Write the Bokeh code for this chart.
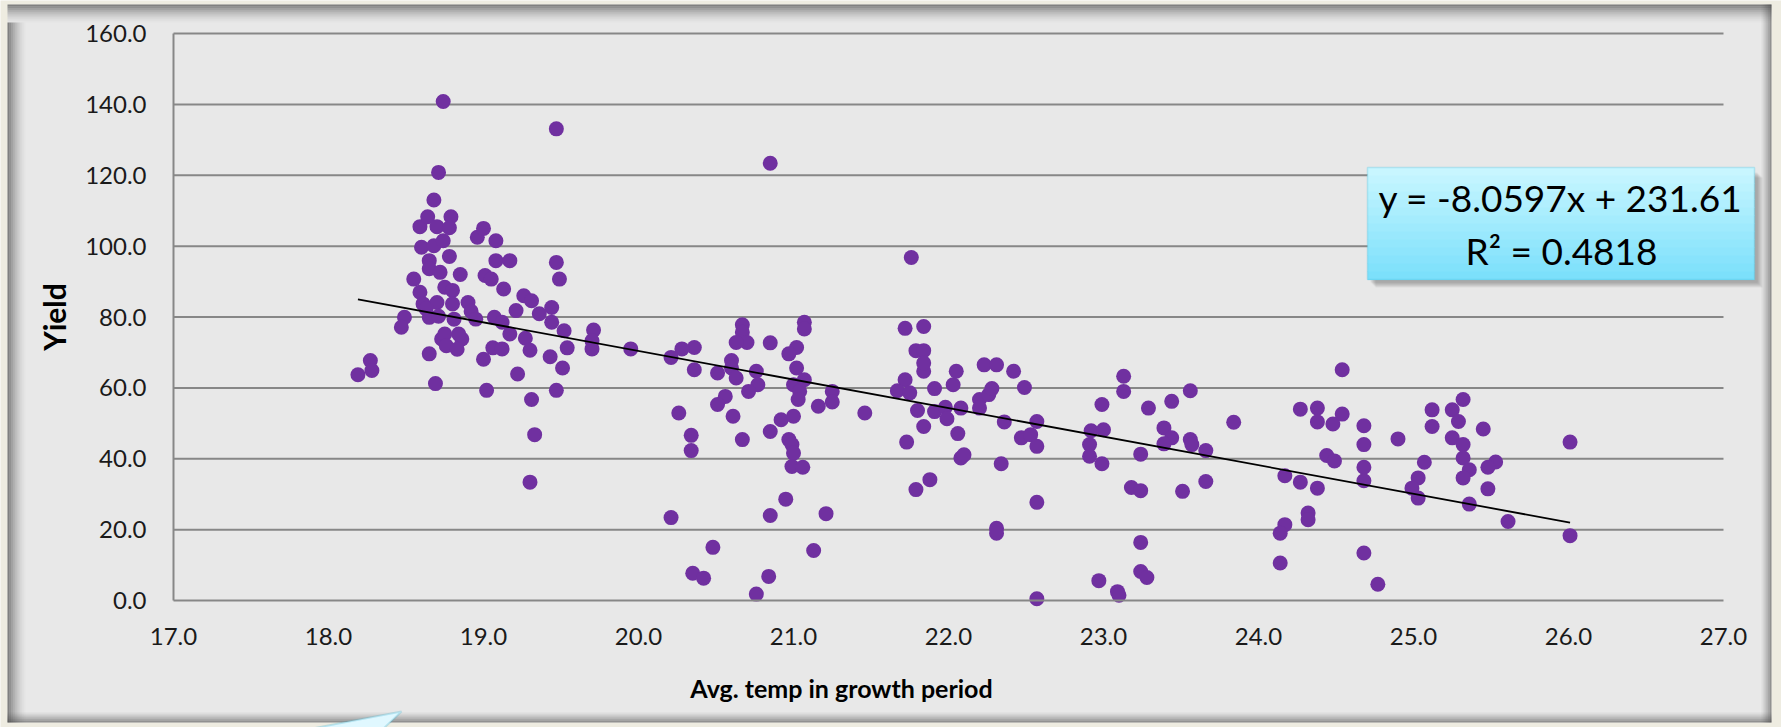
from bokeh.plotting import figure
from bokeh.models import (Range1d, FixedTicker, NumeralTickFormatter, BoxAnnotation,
                          PolyAnnotation, Label)
from bokeh.embed import file_html
from bokeh.resources import INLINE

# ---------------- data ----------------
temp = [18.74, 19.47, 18.71, 18.68, 18.59, 18.64, 18.79, 18.70, 18.78, 18.60,
        18.68, 18.74, 18.78, 18.96, 19.00, 19.08, 19.08, 19.17, 18.65, 18.65,
        18.72, 18.85, 18.55, 19.01, 19.05, 19.13, 19.26, 19.31, 18.59, 18.75,
        18.80, 18.90, 18.61, 18.70, 18.80, 18.63, 19.44, 19.21, 18.92, 18.49,
        18.47, 18.65, 18.71, 18.81, 18.95, 19.07, 19.12, 19.36, 19.44, 19.52,
        19.71, 19.70, 18.73, 18.86, 18.84, 18.75, 19.17, 19.27, 18.76, 18.83,
        19.06, 19.12, 19.54, 19.70, 18.65, 18.27, 19.00, 19.30, 19.43, 18.19,
        18.28, 18.69, 19.22, 19.02, 19.31, 19.47, 19.51, 19.33, 19.30, 19.47,
        19.49, 20.85, 21.76, 19.95, 20.67, 20.67, 20.70, 20.63, 20.85, 21.07,
        21.07, 21.02, 20.97, 21.72, 21.84, 21.79, 21.84, 20.36, 20.28, 20.21,
        20.60, 22.23, 22.31, 20.36, 20.51, 20.60, 20.63, 20.76, 20.77, 20.71,
        20.56, 20.51, 20.61, 20.26, 20.34, 20.34, 20.67, 20.85, 20.92, 21.00,
        20.97, 20.99, 21.00, 20.99, 21.06, 21.02, 21.00, 21.04, 21.07, 21.03,
        21.16, 21.25, 21.25, 21.46, 20.95, 20.85, 21.21, 20.21, 20.48, 20.35,
        20.42, 20.84, 20.76, 21.13, 21.72, 21.67, 21.75, 21.84, 21.84, 21.91,
        21.80, 21.91, 21.98, 21.99, 22.08, 22.03, 22.05, 21.84, 22.06, 21.73,
        22.08, 22.10, 21.88, 21.79, 22.20, 22.26, 22.28, 22.20, 22.42, 22.49,
        22.36, 22.47, 22.53, 22.57, 22.57, 22.34, 22.57, 22.31, 22.31, 22.57,
        22.99, 22.92, 23.00, 22.91, 22.91, 22.99, 23.13, 23.13, 23.29, 23.24,
        23.18, 23.24, 23.44, 23.56, 23.39, 23.44, 23.39, 23.56, 23.57, 23.51,
        23.24, 23.24, 23.28, 22.97, 23.09, 23.10, 24.54, 23.84, 23.66, 23.66,
        24.27, 24.38, 24.38, 24.48, 24.54, 24.68, 24.68, 24.44, 24.49, 24.17,
        24.27, 24.38, 24.68, 24.68, 24.32, 24.32, 24.17, 24.14, 24.14, 24.68,
        24.77, 24.90, 25.07, 25.03, 24.99, 25.03, 25.12, 25.12, 25.25, 25.32,
        25.29, 25.25, 25.32, 25.32, 25.36, 25.32, 25.36, 25.45, 25.53, 25.48,
        25.48, 25.61, 26.01, 26.01]
yield_val = [140.8, 133.1, 120.8, 113.0, 105.5, 108.3, 108.3, 105.5, 105.2, 99.7,
             100.1, 101.5, 97.1, 102.5, 105.0, 101.5, 95.9, 95.9, 95.9, 93.6,
             92.6, 92.0, 90.7, 91.7, 90.7, 87.9, 86.0, 84.6, 87.0, 88.4,
             87.5, 84.1, 83.7, 84.1, 83.7, 82.3, 82.7, 81.8, 81.6, 79.9,
             77.1, 79.9, 80.2, 79.4, 79.4, 79.9, 78.5, 80.9, 78.5, 76.1,
             76.3, 73.3, 73.8, 73.8, 75.2, 75.2, 75.2, 74.0, 71.9, 70.9,
             71.3, 71.0, 71.3, 71.0, 69.6, 67.7, 68.1, 70.6, 68.8, 63.7,
             64.9, 61.2, 63.9, 59.3, 56.7, 59.3, 65.6, 46.8, 33.4, 95.4,
             90.7, 123.4, 96.8, 71.0, 77.8, 75.7, 72.8, 72.8, 72.7, 78.5,
             76.6, 71.4, 69.6, 76.8, 77.3, 70.5, 70.5, 71.4, 71.0, 68.6,
             67.7, 66.5, 66.5, 65.1, 64.2, 65.6, 62.8, 64.7, 60.9, 59.0,
             57.6, 55.3, 52.0, 52.9, 46.6, 42.3, 45.4, 47.7, 51.0, 52.0,
             45.4, 44.0, 41.6, 37.8, 37.6, 65.6, 60.9, 59.0, 62.3, 56.7,
             54.8, 59.0, 56.0, 52.9, 28.6, 24.0, 24.5, 23.4, 15.0, 7.7,
             6.3, 6.8, 1.8, 14.1, 62.3, 59.2, 58.6, 64.7, 67.0, 59.8,
             53.6, 53.3, 54.5, 51.3, 54.3, 60.9, 64.7, 49.1, 47.1, 44.7,
             40.2, 41.1, 34.1, 31.3, 56.7, 58.1, 59.8, 54.3, 64.7, 60.1,
             50.4, 45.9, 46.8, 50.5, 43.5, 38.6, 27.7, 20.4, 19.0, 0.5,
             55.3, 47.9, 48.2, 44.0, 40.7, 38.6, 63.3, 59.0, 54.3, 41.3,
             31.9, 31.0, 56.2, 59.2, 48.7, 45.9, 44.2, 45.4, 44.0, 30.8,
             16.4, 8.2, 6.5, 5.6, 2.5, 1.5, 65.1, 50.3, 42.3, 33.6,
             54.0, 54.3, 50.4, 49.8, 52.6, 49.3, 44.0, 40.9, 39.4, 35.2,
             33.4, 31.7, 37.6, 33.8, 24.7, 22.8, 21.4, 19.0, 10.6, 13.4,
             4.6, 45.6, 39.0, 34.6, 31.7, 28.9, 53.8, 49.1, 53.8, 56.7,
             50.5, 45.9, 44.0, 40.2, 36.9, 34.6, 27.2, 48.4, 39.1, 37.6,
             31.5, 22.3, 44.7, 18.3]

x_ticks = [17.0, 18.0, 19.0, 20.0, 21.0, 22.0, 23.0, 24.0, 25.0, 26.0, 27.0]
y_ticks = [0.0, 20.0, 40.0, 60.0, 80.0, 100.0, 120.0, 140.0, 160.0]
slope = -8.0597
intercept = 231.61
r_squared = 0.4818
x_title = "Avg. temp in growth period"
y_title = "Yield"

# ---------------- layout ----------------
W, H = 1781, 727
PL, PR, PT, PB = 173, 1723, 33, 600      # plot area in canvas pixels
FONT = "Lato"
GRID = "#878787"
PURPLE = "#7030A0"

# the frame fills the whole canvas; ranges chosen so the axes land on the plot area
kx = (PR - PL) / (x_ticks[-1] - x_ticks[0])
ky = (PB - PT) / (y_ticks[-1] - y_ticks[0])
x_start = x_ticks[0] - PL / kx
y_start = y_ticks[0] - (H - PB) / ky

p = figure(width=W, height=H,
           x_range=Range1d(x_start, x_start + W / kx),
           y_range=Range1d(y_start, y_start + H / ky),
           output_backend="svg", toolbar_location=None, min_border=0,
           min_border_left=0, min_border_right=0, min_border_top=0, min_border_bottom=0)
p.border_fill_color = "#EEECE1"
p.background_fill_color = "#EEECE1"
p.outline_line_color = None


def sx(cx):
    return cx


def sy(cy):
    return H - cy


def box(cx0, cy0, cx1, cy1, color, alpha=1.0, level="image", line_color=None, lw=1.0):
    b = BoxAnnotation(left=sx(cx0), right=sx(cx1), top=sy(cy0), bottom=sy(cy1),
                      left_units="screen", right_units="screen",
                      top_units="screen", bottom_units="screen",
                      fill_color=color, fill_alpha=alpha, line_color=line_color,
                      line_width=lw, level=level)
    p.add_layout(b)
    return b


# chart area with shadowed edges
CX0, CY0, CX1, CY1 = 7, 4, 1771, 722
box(CX0, CY0, CX1, CY1, "#E8E8E8")
for i in range(9):
    a = 0.6 * (1 - i / 9) ** 1.6
    box(CX0, CY0 + 2 * i, CX1, CY0 + 2 * i + 2, "#3A3A3A", a)
    box(CX0 + 2 * i, CY0 + 18, CX0 + 2 * i + 2, CY1, "#3A3A3A", a)
for i in range(5):
    a = 0.5 * (1 - i / 5) ** 1.3
    box(CX1 - 2 * i - 2, CY0, CX1 - 2 * i, CY1, "#3A3A3A", a)
    box(CX0, CY1 - 2 * i - 2, CX1, CY1 - 2 * i, "#3A3A3A", a)

# axes placed on the plot-area edges
for ax in (p.xaxis[0], p.yaxis[0]):
    ax.axis_line_color = GRID
    ax.axis_line_width = 2
    ax.major_tick_line_color = None
    ax.minor_tick_line_color = None
    ax.major_label_text_font = FONT
    ax.major_label_text_font_size = "24px"
    ax.major_label_text_color = "#1A1A1A"
    ax.formatter = NumeralTickFormatter(format="0.0")
p.xaxis.ticker = FixedTicker(ticks=x_ticks)
p.yaxis.ticker = FixedTicker(ticks=y_ticks)
p.xaxis.fixed_location = y_ticks[0]
p.yaxis.fixed_location = x_ticks[0]
p.xaxis.bounds = (x_ticks[0], x_ticks[-1])
p.yaxis.bounds = (y_ticks[0], y_ticks[-1])
p.xaxis.major_label_standoff = 21
p.yaxis.major_label_standoff = 21
p.yaxis.axis_label = y_title
p.yaxis.axis_label_text_font = FONT
p.yaxis.axis_label_text_font_style = "bold"
p.yaxis.axis_label_text_font_size = "30px"
p.yaxis.axis_label_text_color = "black"
p.yaxis.axis_label_standoff = 10

p.xgrid.grid_line_color = None
p.ygrid.grid_line_color = None

# horizontal gridlines across the plot area
gy = y_ticks[1:]
p.segment(x0=[x_ticks[0]] * len(gy), x1=[x_ticks[-1]] * len(gy), y0=gy, y1=gy,
          line_color=GRID, line_width=2)

# data
p.scatter(temp, yield_val, size=15, fill_color=PURPLE, line_color=None)

# linear trend line over the data extent
x0, x1 = min(temp), max(temp)
p.line([x0, x1], [slope * x0 + intercept, slope * x1 + intercept],
       line_color="black", line_width=1.8)

# x axis title
p.add_layout(Label(x=sx(841), y=sy(687), x_units="screen", y_units="screen",
                   text=x_title, text_font=FONT, text_font_style="bold",
                   text_font_size="25px", text_align="center",
                   text_baseline="middle", text_color="black", level="overlay"))

# trend-line label box
LB = (1367, 167, 1754, 279)
for i in range(6):
    box(LB[0] + 3 + i, LB[1] + 5 + i, LB[2] + 3 + i, LB[3] + 3 + i, "#555555",
        0.09, level="annotation")
n = 14
top_c = (200, 246, 255)
bot_c = (124, 224, 251)
h = (LB[3] - LB[1]) / n
for i in range(n):
    t = i / (n - 1)
    c = tuple(int(round(top_c[k] + (bot_c[k] - top_c[k]) * t)) for k in range(3))
    box(LB[0], LB[1] + i * h, LB[2], LB[1] + (i + 1) * h + 0.5,
        "#%02X%02X%02X" % c, 1.0, level="annotation")
box(LB[0], LB[1], LB[2], LB[3], "#000000", 0.0, level="annotation",
    line_color="#4BC0DD", lw=1.5)

eq_text = "y = %sx + %s" % (slope, intercept)
r2_text = "R² = %s" % r_squared
p.add_layout(Label(x=sx(1560), y=sy(197), x_units="screen", y_units="screen",
                   text=eq_text, text_font=FONT, text_font_size="37px",
                   text_align="center", text_baseline="middle",
                   text_color="black", level="overlay"))
p.add_layout(Label(x=sx(1561), y=sy(250), x_units="screen", y_units="screen",
                   text=r2_text, text_font=FONT, text_font_size="37px",
                   text_align="center", text_baseline="middle",
                   text_color="black", level="overlay"))

# callout pointer at the bottom edge
p.add_layout(PolyAnnotation(xs=[sx(312), sx(401), sx(383)],
                            ys=[sy(728), sy(711), sy(728)],
                            xs_units="screen", ys_units="screen",
                            fill_color="#E0F8FF", fill_alpha=1.0,
                            line_color="#4BB5D0", line_width=2, level="overlay"))

open("out.html", "w").write(file_html(p, INLINE))
